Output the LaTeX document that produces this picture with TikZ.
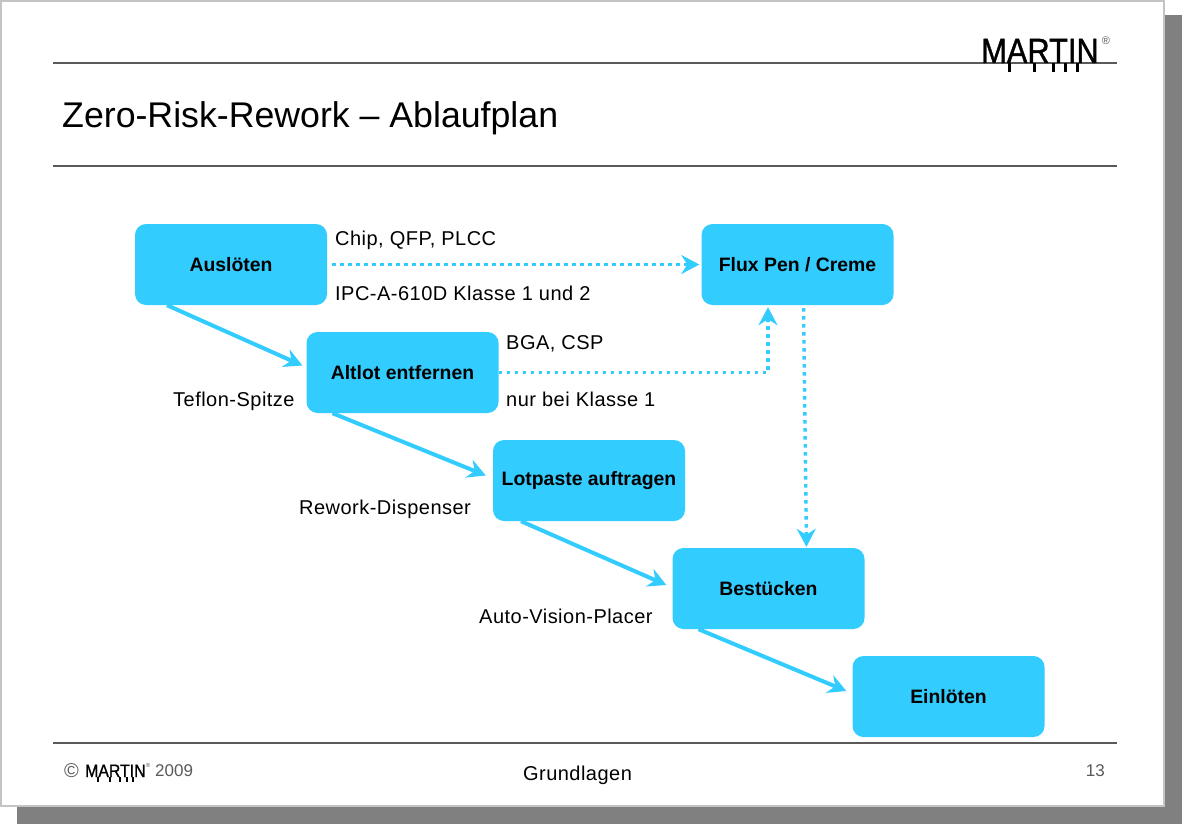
\documentclass[tikz,border=0pt]{standalone}
\usepackage{fontspec}
\setmainfont{Liberation Sans}
\newfontfamily\noteFont[LetterSpace=2.4]{Liberation Sans}
\newfontfamily\logoFont[FakeBold=1.2]{Liberation Sans}
\usepackage{xcolor}
\definecolor{stepBlue}{HTML}{33CCFF}
\definecolor{ruleGray}{HTML}{5A5A5A}
\definecolor{shadowGray}{HTML}{808080}
\definecolor{frameGray}{HTML}{C4C4C4}
\usetikzlibrary{positioning,calc,arrows.meta}
\tikzset{%
  stepBox/.style={%
    rectangle,
    rounded corners=11pt,
    fill=stepBlue,
    minimum width=192pt,
    minimum height=81pt,
    inner sep=0pt,
    align=center,
    font=\fontsize{19.4}{22}\selectfont\bfseries
  },
  flowLine/.style={%
    -{Stealth[length=18pt,width=19pt,inset=6pt]},
    line width=4pt,
    color=stepBlue
  },
  dotLine/.style={%
    -{Stealth[length=18pt,width=19pt,inset=6pt]},
    line width=3.4pt,
    dash pattern=on 3.4pt off 4.6pt,
    color=stepBlue
  },
  noteText/.style={%
    anchor=west,
    inner sep=0pt,
    font=\fontsize{20}{22}\noteFont
  },
  ruleLine/.style={%
    line width=1.1pt,
    color=ruleGray
  }
}

\begin{document}
\begin{tikzpicture}[x=1pt,y=-1pt]
            \useasboundingbox (0,0) rectangle (1182,824);
            \fill[shadowGray] (17,15) rectangle (1182,824);
            \draw[frameGray,line width=2pt,fill=white] (1,1) rectangle (1164,806);

            \draw[ruleLine] (53,63) -- (1117,63);
            \draw[ruleLine] (53,166) -- (1117,166);
            \draw[ruleLine] (53,743) -- (1117,743);

            % logo top right
            \node[anchor=base west,inner sep=0pt,font=\fontsize{35}{35}\logoFont] (logo) at (981,63) {\scalebox{.88}[1]{MARTIN}};
            \node[inner sep=0pt,text=ruleGray,font=\fontsize{11}{11}\selectfont] (logoMark) at (1106,41) {®};
            \foreach \tickX in {1009,1034,1053,1065,1077}
              \fill (\tickX-1.5,63) rectangle (\tickX+1.5,72);

            \node[anchor=west,inner sep=0pt,font=\fontsize{35.7}{40}\selectfont] (title) at (62,118) {Zero-Risk-Rework – Ablaufplan};

            \node[stepBox] (ausloeten) at (231,264.5) {Auslöten};
            \node[stepBox] (altlot) at (402.5,372.5) {Altlot entfernen};
            \node[stepBox] (lotpaste) at (589,480.5) {Lotpaste auftragen};
            \node[stepBox] (bestuecken) at (768.5,588.5) {Bestücken};
            \node[stepBox] (einloeten) at (948.5,696.5) {Einlöten};
            \node[stepBox] (flux) at (797.5,264.5) {Flux Pen / Creme};

            \draw[flowLine] ([xshift=-64pt]ausloeten.south) -- ([xshift=-4pt,yshift=7pt]altlot.west);
            \draw[flowLine] ([xshift=-70pt]altlot.south) -- ([xshift=-7pt,yshift=5pt]lotpaste.west);
            \draw[flowLine] ([xshift=-68pt]lotpaste.south) -- ([xshift=-6pt,yshift=3.5pt]bestuecken.west);
            \draw[flowLine] ([xshift=-70pt]bestuecken.south) -- ([xshift=-6pt,yshift=5.5pt]einloeten.west);

            \draw[dotLine,shorten <=5pt,shorten >=2pt] (ausloeten) -- (flux);
            \draw[dotLine,shorten >=2pt] (altlot.east) -| ([xshift=-29.5pt]flux.south);
            \draw[dotLine,shorten <=3pt,shorten >=1pt] ([xshift=6pt]flux.south) -- ([xshift=38pt]bestuecken.north);

            \node[noteText] (chip) at (335,240) {Chip, QFP, PLCC};
            \node[noteText] (ipc) at (335,293) {IPC-A-610D Klasse 1 und 2};
            \node[noteText] (bga) at (506,344) {BGA, CSP};
            \node[noteText] (klasse) at (506,399) {nur bei Klasse 1};
            \node[noteText] (teflon) at (173,401) {Teflon-Spitze};
            \node[noteText] (dispenser) at (299,509) {Rework-Dispenser};
            \node[noteText] (placer) at (479,616) {Auto-Vision-Placer};

            % footer
            \node[anchor=west,inner sep=0pt,text=ruleGray,font=\fontsize{20}{20}\selectfont] (copyright) at (64,771) {©};
            \node[anchor=base west,inner sep=0pt,font=\fontsize{18}{18}\logoFont] (footLogo) at (85,777) {\scalebox{.88}[1]{MARTIN}};
            \foreach \tickX in {98,110,120,127,133}
              \fill (\tickX-.7,777) rectangle (\tickX+.7,782);
            \node[inner sep=0pt,text=ruleGray,font=\fontsize{6}{6}\selectfont] (footMark) at (148,765) {®};
            \node[anchor=west,inner sep=0pt,text=ruleGray,font=\fontsize{17}{20}\selectfont] (year) at (155,771) {2009};
            \node[inner sep=0pt,font=\fontsize{20}{22}\noteFont] (section) at (577.5,775) {Grundlagen};
            \node[anchor=east,inner sep=0pt,text=ruleGray,font=\fontsize{17}{20}\selectfont] (page) at (1105,771) {13};
        \end{tikzpicture}
\end{document}
